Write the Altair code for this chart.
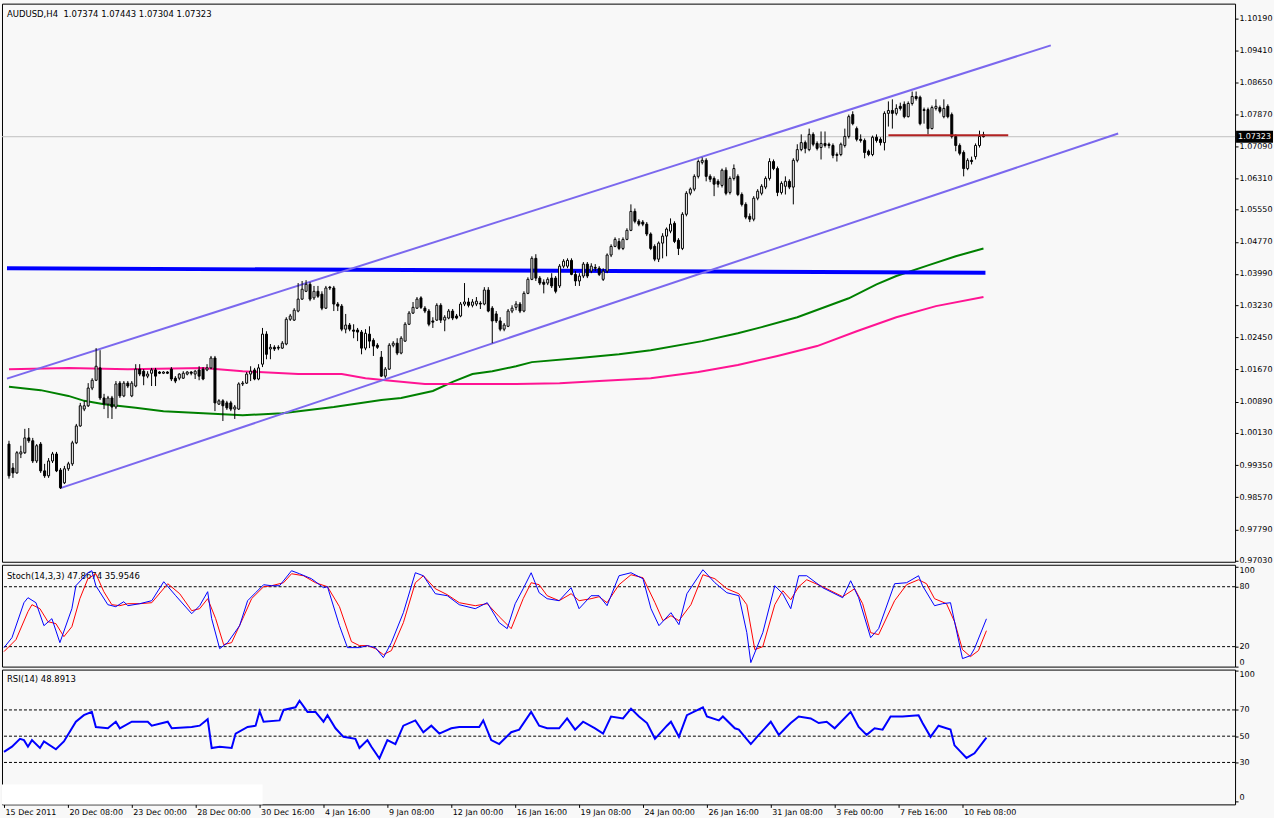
import altair as alt
import pandas as pd

# ---------------- data ----------------
OPEN = [0.9986, 0.9928, 0.9916, 0.9962, 0.9965, 1.0001, 0.9994, 0.9945, 0.9986, 0.9921,
        0.9909, 0.9945, 0.9962, 0.9923, 0.9892, 0.9926, 0.9938, 0.9989, 1.0030, 1.0071,
        1.0079, 1.0122, 1.0141, 1.0171, 1.0098, 1.0083, 1.0098, 1.0076, 1.0134, 1.0103,
        1.0134, 1.0103, 1.0127, 1.0168, 1.0163, 1.0151, 1.0158, 1.0166, 1.0161, 1.0158,
        1.0161, 1.0168, 1.0146, 1.0146, 1.0146, 1.0156, 1.0161, 1.0156, 1.0166, 1.0168,
        1.0166, 1.0171, 1.0195, 1.0083, 1.0091, 1.0086, 1.0086, 1.0071, 1.0071, 1.0132,
        1.0134, 1.0156, 1.0166, 1.0144, 1.0180, 1.0253, 1.0217, 1.0221, 1.0221, 1.0219,
        1.0229, 1.0289, 1.0287, 1.0309, 1.0338, 1.0357, 1.0374, 1.0341, 1.0357, 1.0350,
        1.0316, 1.0367, 1.0365, 1.0326, 1.0321, 1.0265, 1.0275, 1.0263, 1.0263, 1.0258,
        1.0219, 1.0253, 1.0238, 1.0226, 1.0197, 1.0151, 1.0168, 1.0226, 1.0231, 1.0207,
        1.0236, 1.0277, 1.0304, 1.0316, 1.0341, 1.0316, 1.0309, 1.0285, 1.0287, 1.0323,
        1.0287, 1.0292, 1.0309, 1.0297, 1.0297, 1.0326, 1.0331, 1.0323, 1.0326, 1.0328,
        1.0326, 1.0360, 1.0316, 1.0302, 1.0285, 1.0265, 1.0272, 1.0309, 1.0318, 1.0326,
        1.0309, 1.0352, 1.0386, 1.0437, 1.0389, 1.0379, 1.0377, 1.0389, 1.0389, 1.0370,
        1.0418, 1.0418, 1.0432, 1.0398, 1.0382, 1.0394, 1.0423, 1.0406, 1.0415, 1.0413,
        1.0386, 1.0406, 1.0445, 1.0466, 1.0478, 1.0461, 1.0483, 1.0505, 1.0551, 1.0527,
        1.0525, 1.0520, 1.0496, 1.0466, 1.0435, 1.0474, 1.0491, 1.0503, 1.0522, 1.0481,
        1.0461, 1.0544, 1.0595, 1.0605, 1.0636, 1.0670, 1.0675, 1.0636, 1.0631, 1.0624,
        1.0614, 1.0651, 1.0597, 1.0631, 1.0636, 1.0592, 1.0568, 1.0539, 1.0532, 1.0583,
        1.0595, 1.0610, 1.0631, 1.0672, 1.0655, 1.0597, 1.0612, 1.0624, 1.0610, 1.0675,
        1.0701, 1.0718, 1.0701, 1.0738, 1.0716, 1.0706, 1.0716, 1.0714, 1.0711, 1.0689,
        1.0689, 1.0711, 1.0733, 1.0786, 1.0752, 1.0726, 1.0723, 1.0697, 1.0689, 1.0731,
        1.0726, 1.0718, 1.0789, 1.0796, 1.0789, 1.0806, 1.0811, 1.0781, 1.0813, 1.0830,
        1.0828, 1.0798, 1.0798, 1.0752, 1.0801, 1.0803, 1.0781, 1.0806, 1.0786, 1.0733,
        1.0711, 1.0694, 1.0655, 1.0675, 1.0684, 1.0711, 1.07374]
HIGH = [0.9994, 0.9940, 0.9969, 0.9982, 1.0023, 1.0025, 1.0001, 0.9986, 0.9991, 0.9938,
        0.9952, 0.9967, 0.9967, 0.9928, 0.9933, 0.9943, 0.9994, 1.0035, 1.0086, 1.0091,
        1.0134, 1.0146, 1.0219, 1.0214, 1.0108, 1.0103, 1.0103, 1.0139, 1.0139, 1.0139,
        1.0139, 1.0139, 1.0180, 1.0180, 1.0168, 1.0163, 1.0171, 1.0171, 1.0163, 1.0163,
        1.0163, 1.0173, 1.0151, 1.0158, 1.0163, 1.0163, 1.0163, 1.0166, 1.0175, 1.0173,
        1.0180, 1.0200, 1.0200, 1.0095, 1.0095, 1.0091, 1.0091, 1.0081, 1.0136, 1.0139,
        1.0161, 1.0175, 1.0171, 1.0180, 1.0268, 1.0260, 1.0229, 1.0226, 1.0226, 1.0236,
        1.0294, 1.0302, 1.0316, 1.0377, 1.0382, 1.0384, 1.0379, 1.0370, 1.0370, 1.0357,
        1.0370, 1.0370, 1.0370, 1.0331, 1.0326, 1.0302, 1.0280, 1.0277, 1.0268, 1.0263,
        1.0265, 1.0272, 1.0243, 1.0231, 1.0212, 1.0173, 1.0231, 1.0236, 1.0243, 1.0248,
        1.0282, 1.0309, 1.0331, 1.0343, 1.0345, 1.0321, 1.0314, 1.0294, 1.0328, 1.0328,
        1.0299, 1.0314, 1.0314, 1.0302, 1.0331, 1.0377, 1.0341, 1.0338, 1.0343, 1.0333,
        1.0367, 1.0367, 1.0321, 1.0309, 1.0294, 1.0280, 1.0314, 1.0323, 1.0333, 1.0331,
        1.0357, 1.0391, 1.0442, 1.0447, 1.0394, 1.0386, 1.0391, 1.0401, 1.0394, 1.0423,
        1.0435, 1.0437, 1.0437, 1.0406, 1.0401, 1.0428, 1.0428, 1.0425, 1.0423, 1.0418,
        1.0413, 1.0449, 1.0471, 1.0488, 1.0486, 1.0488, 1.0510, 1.0568, 1.0558, 1.0532,
        1.0530, 1.0525, 1.0500, 1.0471, 1.0478, 1.0498, 1.0512, 1.0534, 1.0527, 1.0486,
        1.0549, 1.0600, 1.0609, 1.0641, 1.0677, 1.0682, 1.0680, 1.0641, 1.0636, 1.0629,
        1.0655, 1.0658, 1.0636, 1.0665, 1.0641, 1.0597, 1.0573, 1.0546, 1.0588, 1.0605,
        1.0617, 1.0636, 1.0680, 1.0677, 1.0660, 1.0624, 1.0636, 1.0629, 1.0680, 1.0714,
        1.0738, 1.0723, 1.0752, 1.0743, 1.0721, 1.0745, 1.0745, 1.0718, 1.0716, 1.0694,
        1.0718, 1.0752, 1.0786, 1.0794, 1.0757, 1.0738, 1.0728, 1.0701, 1.0735, 1.0738,
        1.0731, 1.0794, 1.0818, 1.0823, 1.0811, 1.0815, 1.0818, 1.0818, 1.0842, 1.0842,
        1.0832, 1.0803, 1.0803, 1.0808, 1.0823, 1.0808, 1.0823, 1.0811, 1.0791, 1.0738,
        1.0716, 1.0699, 1.0680, 1.0684, 1.0716, 1.0747, 1.07443]
LOW = [0.9902, 0.9904, 0.9914, 0.9952, 0.9962, 0.9989, 0.9940, 0.9940, 0.9916, 0.9904,
       0.9904, 0.9940, 0.9918, 0.9877, 0.9889, 0.9921, 0.9933, 0.9986, 1.0028, 1.0066,
       1.0076, 1.0117, 1.0139, 1.0093, 1.0071, 1.0049, 1.0047, 1.0071, 1.0098, 1.0100,
       1.0122, 1.0100, 1.0124, 1.0151, 1.0129, 1.0146, 1.0127, 1.0127, 1.0156, 1.0156,
       1.0156, 1.0139, 1.0134, 1.0141, 1.0144, 1.0153, 1.0153, 1.0144, 1.0141, 1.0141,
       1.0163, 1.0168, 1.0066, 1.0081, 1.0042, 1.0069, 1.0066, 1.0047, 1.0069, 1.0127,
       1.0132, 1.0139, 1.0141, 1.0141, 1.0173, 1.0192, 1.0192, 1.0212, 1.0214, 1.0217,
       1.0226, 1.0285, 1.0285, 1.0306, 1.0336, 1.0355, 1.0333, 1.0336, 1.0341, 1.0311,
       1.0314, 1.0360, 1.0309, 1.0309, 1.0260, 1.0255, 1.0260, 1.0243, 1.0236, 1.0204,
       1.0214, 1.0219, 1.0200, 1.0217, 1.0149, 1.0146, 1.0166, 1.0221, 1.0202, 1.0204,
       1.0234, 1.0275, 1.0302, 1.0314, 1.0314, 1.0304, 1.0272, 1.0268, 1.0285, 1.0280,
       1.0260, 1.0289, 1.0287, 1.0289, 1.0294, 1.0321, 1.0318, 1.0318, 1.0321, 1.0314,
       1.0323, 1.0306, 1.0231, 1.0280, 1.0260, 1.0260, 1.0270, 1.0304, 1.0311, 1.0304,
       1.0306, 1.0350, 1.0384, 1.0382, 1.0372, 1.0352, 1.0372, 1.0365, 1.0352, 1.0365,
       1.0413, 1.0413, 1.0396, 1.0370, 1.0370, 1.0389, 1.0389, 1.0401, 1.0406, 1.0394,
       1.0382, 1.0401, 1.0440, 1.0464, 1.0457, 1.0457, 1.0481, 1.0503, 1.0522, 1.0515,
       1.0515, 1.0491, 1.0457, 1.0430, 1.0428, 1.0437, 1.0442, 1.0498, 1.0474, 1.0445,
       1.0457, 1.0539, 1.0590, 1.0600, 1.0631, 1.0665, 1.0624, 1.0622, 1.0588, 1.0609,
       1.0609, 1.0590, 1.0592, 1.0626, 1.0588, 1.0563, 1.0532, 1.0525, 1.0527, 1.0578,
       1.0590, 1.0605, 1.0626, 1.0651, 1.0588, 1.0592, 1.0592, 1.0605, 1.0568, 1.0670,
       1.0697, 1.0692, 1.0697, 1.0709, 1.0699, 1.0677, 1.0706, 1.0704, 1.0680, 1.0672,
       1.0685, 1.0706, 1.0728, 1.0760, 1.0721, 1.0718, 1.0680, 1.0685, 1.0685, 1.0718,
       1.0711, 1.0699, 1.0757, 1.0752, 1.0784, 1.0796, 1.0777, 1.0779, 1.0808, 1.0820,
       1.0760, 1.0764, 1.0738, 1.0750, 1.0796, 1.0789, 1.0777, 1.0777, 1.0728, 1.0697,
       1.0687, 1.0636, 1.0651, 1.0665, 1.0677, 1.0706, 1.07304]
CLOSE = [0.9909, 0.9916, 0.9965, 0.9967, 1.0001, 0.9994, 0.9945, 0.9982, 0.9921, 0.9909,
         0.9945, 0.9962, 0.9921, 0.9880, 0.9926, 0.9938, 0.9989, 1.0030, 1.0079, 1.0079,
         1.0122, 1.0141, 1.0175, 1.0098, 1.0083, 1.0098, 1.0076, 1.0132, 1.0103, 1.0134,
         1.0127, 1.0134, 1.0168, 1.0156, 1.0151, 1.0156, 1.0166, 1.0151, 1.0158, 1.0161,
         1.0158, 1.0144, 1.0139, 1.0156, 1.0158, 1.0161, 1.0158, 1.0163, 1.0151, 1.0144,
         1.0171, 1.0195, 1.0086, 1.0091, 1.0079, 1.0074, 1.0071, 1.0076, 1.0132, 1.0134,
         1.0156, 1.0163, 1.0144, 1.0171, 1.0253, 1.0204, 1.0221, 1.0217, 1.0219, 1.0231,
         1.0289, 1.0297, 1.0311, 1.0338, 1.0362, 1.0374, 1.0338, 1.0357, 1.0345, 1.0316,
         1.0365, 1.0365, 1.0326, 1.0321, 1.0265, 1.0275, 1.0265, 1.0260, 1.0258, 1.0219,
         1.0255, 1.0236, 1.0224, 1.0221, 1.0151, 1.0168, 1.0226, 1.0231, 1.0207, 1.0243,
         1.0277, 1.0304, 1.0318, 1.0338, 1.0318, 1.0309, 1.0277, 1.0282, 1.0323, 1.0287,
         1.0294, 1.0309, 1.0292, 1.0292, 1.0326, 1.0331, 1.0323, 1.0331, 1.0333, 1.0326,
         1.0360, 1.0309, 1.0285, 1.0285, 1.0265, 1.0275, 1.0309, 1.0316, 1.0326, 1.0309,
         1.0352, 1.0386, 1.0437, 1.0389, 1.0377, 1.0374, 1.0386, 1.0370, 1.0357, 1.0418,
         1.0430, 1.0432, 1.0398, 1.0382, 1.0394, 1.0423, 1.0394, 1.0418, 1.0413, 1.0398,
         1.0406, 1.0445, 1.0466, 1.0483, 1.0461, 1.0483, 1.0505, 1.0551, 1.0527, 1.0520,
         1.0520, 1.0496, 1.0461, 1.0435, 1.0474, 1.0491, 1.0508, 1.0520, 1.0478, 1.0461,
         1.0544, 1.0595, 1.0605, 1.0636, 1.0672, 1.0675, 1.0636, 1.0629, 1.0617, 1.0617,
         1.0651, 1.0595, 1.0631, 1.0655, 1.0592, 1.0568, 1.0537, 1.0532, 1.0583, 1.0600,
         1.0612, 1.0631, 1.0672, 1.0655, 1.0597, 1.0619, 1.0624, 1.0610, 1.0675, 1.0701,
         1.0718, 1.0704, 1.0738, 1.0714, 1.0704, 1.0716, 1.0711, 1.0711, 1.0687, 1.0687,
         1.0714, 1.0733, 1.0781, 1.0764, 1.0726, 1.0723, 1.0694, 1.0689, 1.0731, 1.0723,
         1.0718, 1.0789, 1.0796, 1.0789, 1.0801, 1.0801, 1.0781, 1.0813, 1.0830, 1.0825,
         1.0764, 1.0796, 1.0752, 1.0803, 1.0806, 1.0794, 1.0801, 1.0781, 1.0733, 1.0711,
         1.0692, 1.0655, 1.0675, 1.0672, 1.0711, 1.0733, 1.07323]

TIME_LABELS = ["15 Dec 2011", "20 Dec 08:00", "23 Dec 00:00", "28 Dec 00:00", "30 Dec 16:00",
               "4 Jan 16:00", "9 Jan 08:00", "12 Jan 00:00", "16 Jan 16:00", "19 Jan 08:00",
               "24 Jan 00:00", "26 Jan 16:00", "31 Jan 08:00", "3 Feb 00:00", "7 Feb 16:00",
               "10 Feb 08:00"]
TIME_TICKS = [0, 16, 32, 48, 64, 80, 96, 112, 128, 144, 160, 176, 192, 208, 224, 240]

PRICE_TICKS = [1.10190, 1.09410, 1.08650, 1.07870, 1.07090, 1.06310, 1.05550, 1.04770, 1.03990,
               1.03230, 1.02450, 1.01670, 1.00890, 1.00130, 0.99350, 0.98570, 0.97790, 0.97030]

GREEN_IDX = [0, 8, 15, 19, 24, 32, 39, 49, 59, 69, 82, 94, 99, 107, 112, 117, 122, 128, 132,
             144, 154, 162, 175, 184, 190, 199, 212, 219, 224, 232, 239, 246]
GREEN_VAL = [1.0125, 1.0117, 1.0103, 1.0091, 1.0083, 1.0074, 1.0066, 1.0061, 1.0056, 1.0061,
             1.0076, 1.0093, 1.0098, 1.0115, 1.0137, 1.0156, 1.0163, 1.0175, 1.0185, 1.0195,
             1.0204, 1.0214, 1.0236, 1.0255, 1.0270, 1.0294, 1.0340, 1.0374, 1.0394, 1.0420,
             1.0442, 1.0461]
PINK_IDX = [0, 15, 30, 49, 59, 63, 73, 84, 90, 97, 105, 110, 128, 139, 149, 162, 174, 184,
            194, 204, 214, 224, 234, 246]
PINK_VAL = [1.0168, 1.0171, 1.0168, 1.0171, 1.0163, 1.0161, 1.0156, 1.0156, 1.0146, 1.0139,
            1.0132, 1.0132, 1.0132, 1.0134, 1.0139, 1.0146, 1.0161, 1.0178, 1.0200, 1.0224,
            1.0260, 1.0294, 1.0321, 1.0343]

CHAN_UP_IDX = [-0.5, 263]
CHAN_UP_VAL = [1.0145, 1.0954]
CHAN_LO_IDX = [13, 280]
CHAN_LO_VAL = [0.9879, 1.0740]
BLUE_IDX = [-0.5, 246.5]
BLUE_VAL = [1.0413, 1.0402]
RED_IDX = [222, 252.25]
RED_VAL = [1.0736, 1.0736]
LAST_PRICE = 1.07323

STOCH_IDX = [0, 2, 5, 6, 8, 10, 12, 14, 17, 18, 21, 22, 23, 26, 28, 30, 31, 34, 37, 40, 43, 47,
             49, 51, 52, 54, 56, 59, 61, 63, 65, 67, 69, 72, 74, 77, 80, 81, 84, 86, 89, 91, 93,
             95, 97, 100, 103, 105, 108, 111, 114, 118, 121, 124, 126, 128, 130, 132, 134, 136,
             139, 142, 144, 147, 149, 151, 154, 157, 160, 162, 164, 167, 169, 171, 175, 178, 181,
             184, 186, 187, 190, 193, 195, 197, 199, 201, 205, 210, 212, 214, 217, 219, 223, 226,
             229, 230, 233, 235, 237, 240, 242, 243, 246]
STOCH_MAIN = [19, 29, 64, 69, 64, 41, 48, 24, 58, 81, 94, 96, 81, 62, 60, 65, 61, 63, 66, 85,
              71, 53, 61, 75, 48, 18, 24, 41, 66, 74, 82, 81, 81, 96, 93, 88, 79, 80, 41, 19, 19,
              21, 19, 9, 24, 54, 94, 91, 73, 71, 62, 58, 64, 44, 38, 63, 78, 94, 74, 68, 66, 79,
              58, 71, 71, 61, 91, 94, 88, 58, 41, 54, 42, 73, 97, 84, 74, 71, 34, 4, 34, 81, 73,
              58, 91, 91, 79, 69, 86, 69, 29, 38, 83, 84, 91, 81, 61, 63, 64, 8, 11, 18, 47.87]
SIG_IDX = [0, 3, 6, 7, 9, 11, 13, 15, 17, 19, 21, 23, 25, 27, 29, 31, 34, 37, 41, 44, 47, 49,
           51, 53, 55, 57, 60, 62, 65, 67, 70, 72, 75, 78, 81, 84, 87, 89, 91, 93, 95, 97, 100,
           103, 105, 108, 111, 114, 118, 121, 124, 127, 130, 132, 134, 136, 139, 142, 144, 147,
           149, 151, 154, 157, 160, 163, 165, 167, 169, 172, 175, 178, 181, 184, 186, 188, 190,
           193, 195, 197, 199, 201, 205, 210, 213, 215, 217, 219, 223, 226, 229, 231, 233, 236,
           238, 240, 242, 244, 246]
STOCH_SIG = [15, 27, 55, 62, 58, 45, 43, 30, 40, 68, 88, 93, 75, 62, 61, 63, 63, 64, 83, 73, 56,
             58, 68, 48, 22, 24, 50, 68, 80, 81, 84, 93, 91, 84, 80, 60, 25, 21, 21, 18, 12, 16,
             44, 84, 91, 78, 72, 64, 61, 63, 50, 38, 68, 84, 82, 71, 66, 73, 66, 68, 70, 64, 82,
             92, 89, 64, 46, 51, 46, 62, 92, 88, 78, 73, 62, 17, 20, 62, 76, 67, 80, 87, 80, 70,
             78, 63, 34, 32, 66, 82, 87, 83, 68, 63, 45, 17, 10, 16, 35.95]

RSI_IDX = [0, 2, 4, 5, 6, 7, 9, 10, 13, 15, 18, 20, 22, 23, 26, 28, 29, 32, 36, 37, 41, 42, 47,
           49, 51, 52, 54, 57, 58, 61, 63, 64, 65, 69, 70, 73, 74, 76, 78, 80, 81, 83, 85, 88,
           89, 91, 92, 94, 96, 98, 100, 103, 105, 107, 109, 112, 114, 116, 119, 120, 122, 124,
           127, 129, 132, 134, 136, 139, 141, 143, 145, 148, 150, 152, 155, 157, 159, 161, 163,
           166, 167, 169, 171, 175, 176, 179, 180, 183, 184, 187, 189, 192, 194, 197, 199, 202,
           204, 206, 208, 212, 214, 216, 218, 220, 222, 225, 229, 230, 232, 234, 237, 238, 241,
           243, 246]
RSI_VAL = [38, 42, 48, 47, 42, 47, 41, 46, 40, 46, 61, 66, 68.5, 57, 56, 61, 56, 61, 61, 58, 61,
           56, 57, 58, 63, 41, 42, 41, 52, 57, 58, 69, 61, 62, 70, 72, 77, 68.5, 68.5, 61, 66,
           56, 49.5, 48, 41, 47, 42, 33, 47, 44, 58, 62, 53, 58, 52, 56, 57, 57, 57, 62, 47, 44,
           53, 55, 68.5, 58, 56, 56, 63.5, 55, 61, 56, 52, 65, 63.5, 71, 65, 60, 48, 58, 61,
           49.5, 66, 72, 65, 62, 65, 56, 55, 44, 51, 61, 51, 60, 65, 63.5, 60, 61, 56, 68.5, 57,
           51, 56, 55, 65, 65, 66, 60, 49.5, 58, 55, 43, 33.4, 37, 48.89]

STOCH_LEVELS = [80, 20]
RSI_LEVELS = [70, 50, 30]
TITLE_MAIN = "AUDUSD,H4\u00a0\u00a01.07374 1.07443 1.07304 1.07323"
TITLE_STOCH = "Stoch(14,3,3) 47.8674 35.9546"
TITLE_RSI = "RSI(14) 48.8913"

# ---------------- styling ----------------
FONT = "DejaVu Sans"
FS = 8
BG = "#f8f8f8"
W = 1235
XDOM = [-0.5, 308.25]

xs = alt.Scale(domain=XDOM, nice=False, zero=False)
ps = alt.Scale(domain=[0.97003, 1.10554], nice=False, zero=False)
ss = alt.Scale(domain=[0, 102], nice=False, zero=False)
rs = alt.Scale(domain=[-1.94, 100.72], nice=False, zero=False)

def yaxis(values, fmt, baseline="middle"):
    return alt.Axis(orient="right", values=values, format=fmt, title=None, grid=False,
                    domain=False, tickSize=3, tickColor="black", labelPadding=1,
                    labelFont=FONT, labelFontSize=FS, labelColor="black",
                    labelOverlap=False, labelFlush=False, labelBaseline=baseline)

p_axis = yaxis(PRICE_TICKS, ".5f")
edge_base = {"condition": [{"test": "datum.value >= 100", "value": "top"},
                           {"test": "datum.value <= 0", "value": "bottom"}],
             "value": "middle"}
s_axis = yaxis([100, 80, 20, 0], "d", edge_base)
r_axis = yaxis([100, 70, 50, 30, 0], "d", edge_base)

x_none = alt.X("i:Q", scale=xs, axis=None)
lbl_js = "[" + ",".join("'" + t + "'" for t in TIME_LABELS) + "]"
x_axis = alt.Axis(values=TIME_TICKS, title=None, grid=False, domain=False, tickSize=3,
                  tickColor="black", labelAlign="left", labelOffset=1, labelPadding=1,
                  labelFont=FONT, labelFontSize=FS, labelColor="black", labelFlush=False,
                  labelOverlap=False, labelBound=False,
                  labelExpr=lbl_js + "[round(datum.value/16)]")
x_bottom = alt.X("i:Q", scale=xs, axis=x_axis)

# ---------------- price panel ----------------
candles = pd.DataFrame({"i": list(range(len(OPEN))), "open": OPEN, "high": HIGH,
                        "low": LOW, "close": CLOSE})

def line_df(idx, val):
    return pd.DataFrame({"i": idx, "v": val})

def pline(idx, val, color, width):
    return alt.Chart(line_df(idx, val)).mark_line(color=color, strokeWidth=width, clip=True).encode(
        x=x_none, y=alt.Y("v:Q", scale=ps, axis=p_axis))

title_main = alt.Chart(pd.DataFrame({"t": [TITLE_MAIN]})).mark_text(
    align="left", baseline="middle", font=FONT, fontSize=FS + 0.5, color="black").encode(
    text="t:N", x=alt.value(5), y=alt.value(10))

grey = alt.Chart(pd.DataFrame({"v": [LAST_PRICE]})).mark_rule(color="#c0c0c0", strokeWidth=1).encode(
    y=alt.Y("v:Q", scale=ps, axis=p_axis))

wicks = alt.Chart(candles).mark_rule(color="black", strokeWidth=1).encode(
    x=x_none, y=alt.Y("low:Q", scale=ps, axis=p_axis), y2="high:Q")
bodies = alt.Chart(candles).mark_bar(size=2, stroke="black", strokeWidth=1, orient="vertical").encode(
    x=x_none, y=alt.Y("open:Q", scale=ps, axis=p_axis), y2="close:Q",
    fill=alt.condition("datum.close >= datum.open", alt.value("#ffffff"), alt.value("#000000")))

lp = pd.DataFrame({"v": [LAST_PRICE], "t": ["%.5f" % LAST_PRICE]})
box = alt.Chart(lp).mark_rect(color="black", yOffset=-6, y2Offset=6).encode(
    y=alt.Y("v:Q", scale=ps, axis=p_axis), y2="v:Q", x=alt.value(W + 1), x2=alt.value(W + 38))
box_txt = alt.Chart(lp).mark_text(
    align="left", baseline="middle", font=FONT, fontSize=FS, color="white").encode(
    y=alt.Y("v:Q", scale=ps, axis=p_axis), x=alt.value(W + 3), text="t:N")

price = alt.layer(
    title_main,
    grey,
    pline(GREEN_IDX, GREEN_VAL, "#008000", 2),
    pline(PINK_IDX, PINK_VAL, "#ff1493", 2),
    pline(BLUE_IDX, BLUE_VAL, "#0000ff", 4),
    pline(CHAN_UP_IDX, CHAN_UP_VAL, "#7b68ee", 2),
    pline(CHAN_LO_IDX, CHAN_LO_VAL, "#7b68ee", 2),
    wicks, bodies,
    pline(RED_IDX, RED_VAL, "#b22222", 2),
    box, box_txt,
).properties(width=W, height=559)

# ---------------- stochastic panel ----------------
title_st = alt.Chart(pd.DataFrame({"t": [TITLE_STOCH]})).mark_text(
    align="left", baseline="middle", font=FONT, fontSize=FS + 0.5, color="black").encode(
    text="t:N", x=alt.value(5), y=alt.value(11))
st_lv = alt.Chart(pd.DataFrame({"v": STOCH_LEVELS})).mark_rule(
    color="black", strokeDash=[3, 2], strokeWidth=1).encode(y=alt.Y("v:Q", scale=ss, axis=s_axis))
st_main = alt.Chart(line_df(STOCH_IDX, STOCH_MAIN)).mark_line(color="#0000ff", strokeWidth=1, clip=True).encode(
    x=x_none, y=alt.Y("v:Q", scale=ss, axis=s_axis))
st_sig = alt.Chart(line_df(SIG_IDX, STOCH_SIG)).mark_line(color="#ff0000", strokeWidth=1, clip=True).encode(
    x=x_none, y=alt.Y("v:Q", scale=ss, axis=s_axis))
stoch = alt.layer(title_st, st_lv, st_sig, st_main).properties(width=W, height=102)

# ---------------- RSI panel ----------------
title_rsi = alt.Chart(pd.DataFrame({"t": [TITLE_RSI]})).mark_text(
    align="left", baseline="middle", font=FONT, fontSize=FS + 0.5, color="black").encode(
    text="t:N", x=alt.value(5), y=alt.value(9))
patch = alt.Chart(pd.DataFrame({"t": [0]})).mark_rect(color="#ffffff").encode(
    x=alt.value(0), x2=alt.value(261), y=alt.value(115), y2=alt.value(135))
rsi_lv = alt.Chart(pd.DataFrame({"v": RSI_LEVELS})).mark_rule(
    color="black", strokeDash=[3, 2], strokeWidth=1).encode(y=alt.Y("v:Q", scale=rs, axis=r_axis))
rsi_line = alt.Chart(line_df(RSI_IDX, RSI_VAL)).mark_line(color="#0000ff", strokeWidth=2, clip=True).encode(
    x=x_bottom, y=alt.Y("v:Q", scale=rs, axis=r_axis))
rsi = alt.layer(patch, title_rsi, rsi_lv, rsi_line).properties(width=W, height=135)

chart = alt.vconcat(price, stoch, rsi, spacing=3, bounds="flush").properties(
    padding={"left": 1, "top": 2, "right": 0, "bottom": 0},
    background=BG,
).configure_view(stroke="black", strokeWidth=1, fill=BG)

chart.save("out.html", embed_options={"renderer": "svg", "actions": False})
